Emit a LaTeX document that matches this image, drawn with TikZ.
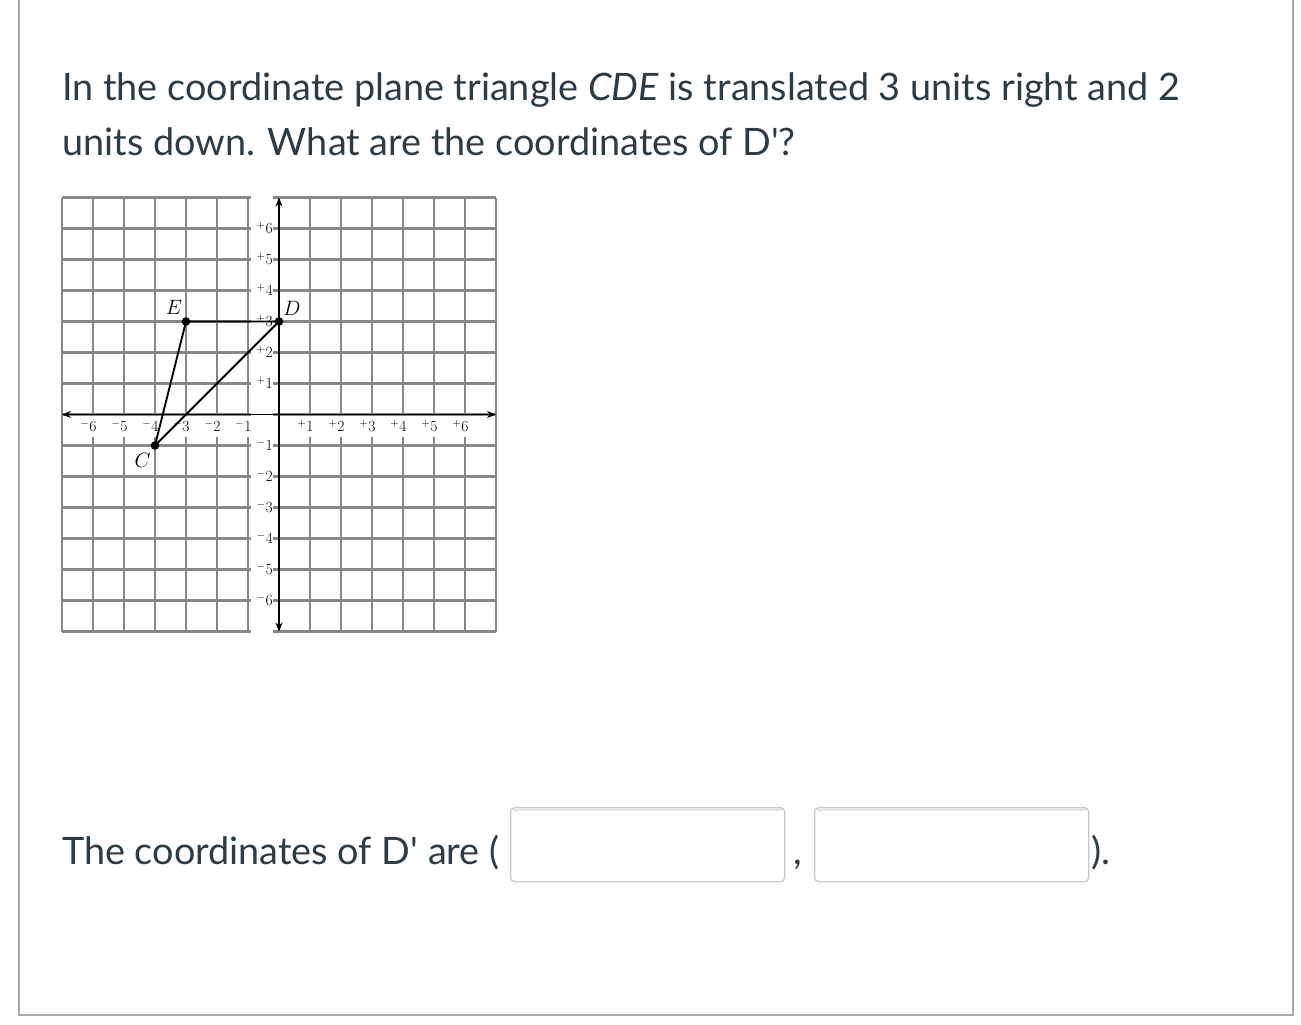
\documentclass[tikz,border=0pt]{standalone}
\usepackage{fontspec}
\newfontfamily\lato{Lato}
\usetikzlibrary{arrows.meta}
\definecolor{txt}{HTML}{2D3B45}
\definecolor{gridc}{RGB}{135,135,135}
\definecolor{framec}{RGB}{170,170,170}
\definecolor{boxc}{RGB}{200,200,200}
\definecolor{shadowc}{RGB}{228,228,228}
\begin{document}
\begin{tikzpicture}[x=1pt,y=-1pt,
  qtext/.style={font=\lato\fontsize{37.8}{46}\selectfont, text=txt, anchor=base west, inner sep=0pt},
  gridline/.style={draw=gridc, line width=2.2pt},
  axisline/.style={draw=black, line width=1.4pt, {Stealth[length=9pt,width=7pt]}-{Stealth[length=9pt,width=7pt]}},
  ticklab/.style={font=\fontsize{15.5}{15.5}\selectfont, inner sep=0pt, anchor=base},
  ptlab/.style={font=\fontsize{20}{20}\selectfont, inner sep=0pt},
  ansbox/.style={draw=boxc, line width=1.3pt, rounded corners=4pt, minimum width=274pt, minimum height=74pt, anchor=north west, inner sep=0pt},
  edge/.style={draw=black, line width=1.9pt},
]
\useasboundingbox (0,0) rectangle (1301,1025);
\fill[white] (0,0) rectangle (1301,1025);
% outer frame
\draw[framec, line width=2pt] (19,-5) -- (19,1015) -- (1292.5,1015) -- (1292.5,-5);

% question text
\node[qtext] (q1) at (62,100) {In the coordinate plane triangle \textit{CDE} is translated 3 units right and 2};
\node[qtext] (q2) at (62,155) {units down. What are the coordinates of D\textquotesingle?};

% graph
\coordinate (O) at (279,414.5);
\begin{scope}[shift={(O)}, x=31pt, y=31pt]
  \foreach \i in {-7,...,7} {
    \draw[gridline] (\i,-7) -- (\i,7);
    \draw[gridline] (-7,\i) -- (7,\i);
  }
  \fill[white] (-0.9,-7.3) rectangle (-0.18,7.3);
  \fill[white] (-6.93,-0.05) rectangle (6.93,-0.73);
  \draw[axisline] (-7,0) -- (7,0);
  \draw[axisline] (0,-7) -- (0,7);
  \foreach \i in {1,...,6} {
    \node[ticklab] (xp\i) at (\i,-0.55) {\llap{$^{+}$}\i};
    \node[ticklab] (xm\i) at (-\i,-0.55) {\llap{$^{-}$}\i};
    \node[ticklab] (yp\i) at (-0.32,\i-0.16) {\llap{$^{+}$}\i};
    \node[ticklab] (ym\i) at (-0.32,-\i-0.16) {\llap{$^{-}$}\i};
  }
  \coordinate (C) at (-4,-1);
  \coordinate (D) at (0,3);
  \coordinate (E) at (-3,3);
  \draw[edge] (C) -- (E) -- (D) -- cycle;
  \fill (C) circle (4.3pt);
  \fill (D) circle (4.3pt);
  \fill (E) circle (4.3pt);
  \node[ptlab] (lE) at (-3.39,3.47) {$E$};
  \node[ptlab] (lD) at (0.41,3.43) {$D$};
  \node[ptlab] (lC) at (-4.40,-1.47) {$C$};
\end{scope}

% answer line
\node[qtext] (a1) at (62,864) {The coordinates of D\textquotesingle{} are (};
\node[ansbox] (b1) at (510,807) {};
\node[ansbox] (b2) at (814,807) {};
\draw[shadowc, line width=2pt] ([xshift=3pt,yshift=-2.5pt]b1.north west) -- ([xshift=-3pt,yshift=-2.5pt]b1.north east);
\draw[shadowc, line width=2pt] ([xshift=3pt,yshift=-2.5pt]b2.north west) -- ([xshift=-3pt,yshift=-2.5pt]b2.north east);
\node[qtext] (comma) at (793,864) {,};
\node[qtext] (close) at (1091,864) {).};
\end{tikzpicture}
\end{document}
